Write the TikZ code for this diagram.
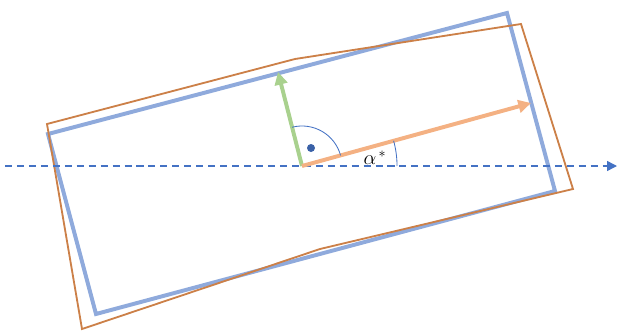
\documentclass[tikz,border=0pt]{standalone}
\usepackage{amsmath}
\usepackage{tikz}
\usetikzlibrary{
    arrows.meta,
    angles
}
\definecolor{ejeazul}{HTML}{4472C4}
\definecolor{rectazul}{HTML}{8FAADC}
\definecolor{rectnaranja}{RGB}{204,128,72}
\definecolor{flechanaranja}{HTML}{F4B183}
\definecolor{flechaverde}{HTML}{A9D18E}
\tikzset{
    >=Triangle,
    rectangulo/.style={line join=miter},
    flecha/.style={line width=2.8pt, -{Triangle[length=9pt,width=9pt]}},
    angulo/.style={draw=ejeazul, line width=0.6pt}
}

\begin{document}
\begin{tikzpicture}[
    x=0.025cm,
    y=0.025cm
]
    \useasboundingbox (0,0) rectangle (617,331);

    % Puntos
    \coordinate (O)  at (302,165);
    \coordinate (e0) at (5,165);
    \coordinate (e1) at (617,165);
    \coordinate (g)  at (278,259);
    \coordinate (a)  at (531,228);

    % Rectangulo azul
    \coordinate (b1) at (48,197);
    \coordinate (b2) at (507,318);
    \coordinate (b3) at (555,140);
    \coordinate (b4) at (96,17);
    \draw[rectangulo, rectazul, line width=2.8pt] (b1) -- (b2) -- (b3) -- (b4) -- cycle;

    % Contorno naranja
    \coordinate (r1) at (47,207);
    \coordinate (r2) at (295,272);
    \coordinate (r3) at (521,307);
    \coordinate (r4) at (573,142);
    \coordinate (r5) at (320,82);
    \coordinate (r6) at (82,2);
    \draw[rectangulo, rectnaranja, line width=1.3pt]
        (r1) -- (r2) -- (r3) -- (r4) -- (r5) -- (r6) -- cycle;

    % Eje
    \draw[ejeazul, line width=1pt, dash pattern=on 5pt off 3.5pt,
        -{Triangle[length=7pt,width=7pt]}] (e0) -- (e1);

    % Flechas
    \draw[flecha, flechaverde]   (O) -- (g);
    \draw[flecha, flechanaranja] (O) -- (a);

    % Angulos
    \pic[angulo, angle radius=1cm] {angle=a--O--g};
    \pic[angulo, angle radius=2.375cm] {angle=e1--O--a};
    \fill[ejeazul!85!black] (311,183) circle (4);
    \node[font=\Large] (alfa) at (375,173) {$\alpha^{\,*}$};

\end{tikzpicture}
\end{document}
